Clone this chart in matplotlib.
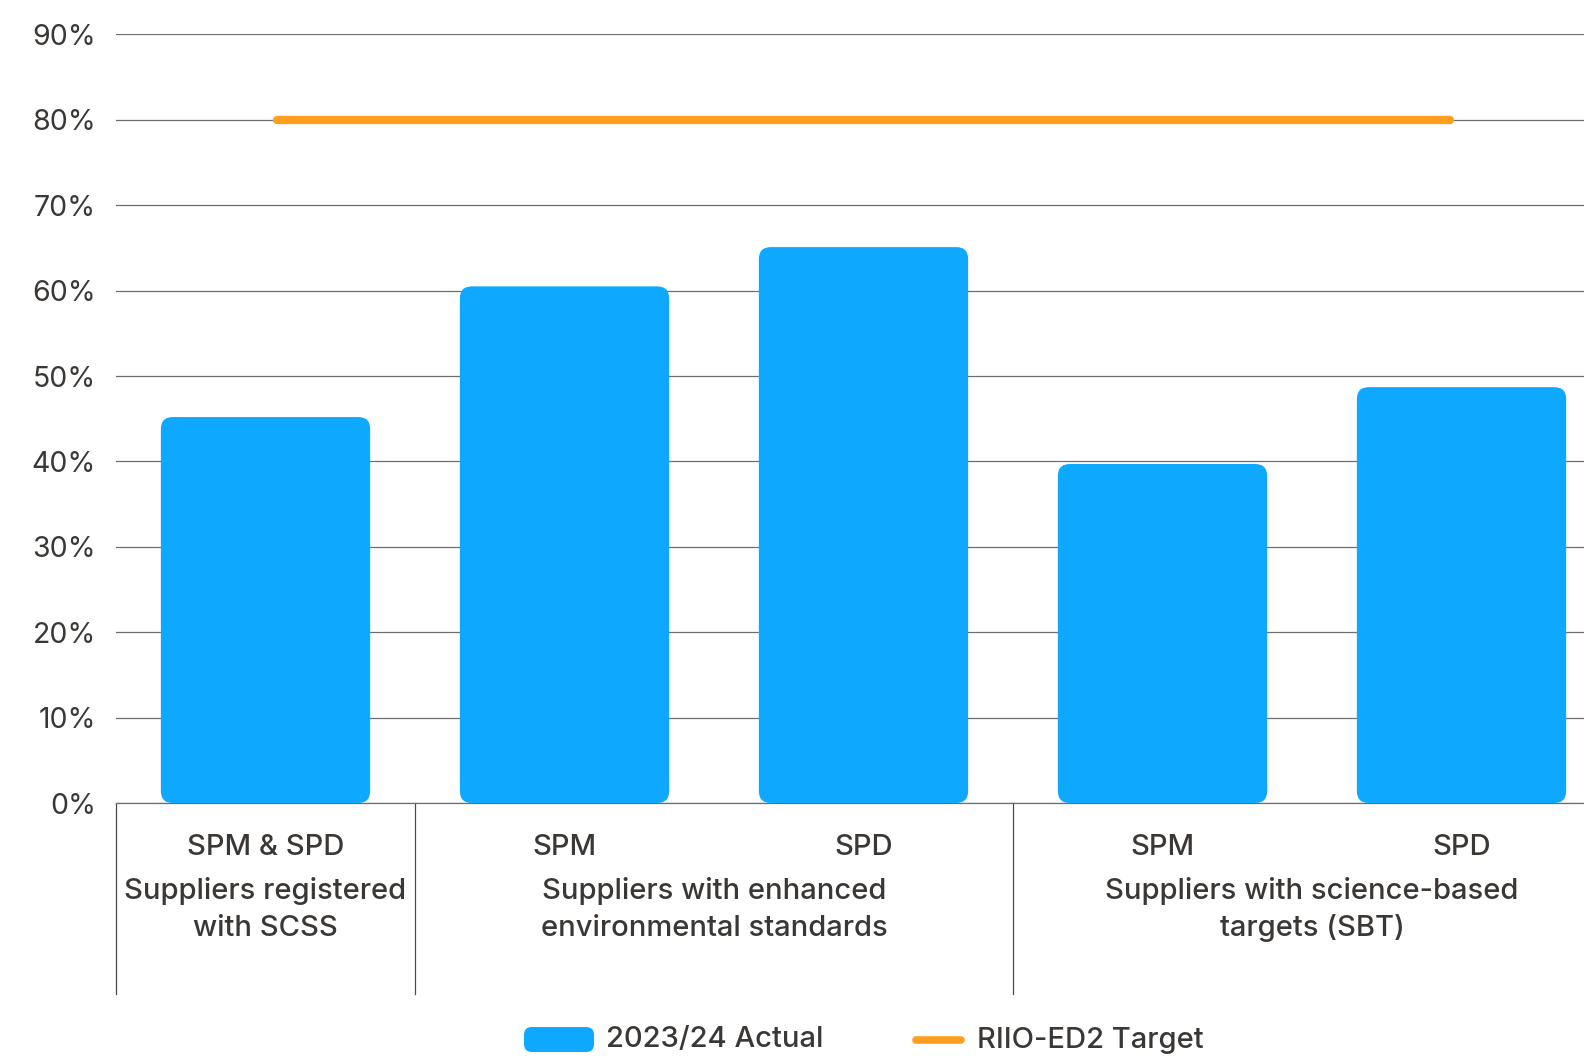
import matplotlib
matplotlib.use("Agg")
import matplotlib.pyplot as plt
from matplotlib.patches import FancyBboxPatch
from matplotlib.lines import Line2D
import matplotlib.transforms as mtransforms

# Data
bar_labels = ["SPM & SPD", "SPM", "SPD", "SPM", "SPD"]
actual_pct = [45.2, 60.5, 65.1, 39.7, 48.7]
target_pct = 80
group_names = ["Suppliers registered\nwith SCSS",
               "Suppliers with enhanced\nenvironmental standards",
               "Suppliers with science-based\ntargets (SBT)"]
group_members = [[0], [1, 2], [3, 4]]
y_ticks = [0, 10, 20, 30, 40, 50, 60, 70, 80, 90]
legend_labels = ["2023/24 Actual", "RIIO-ED2 Target"]

BLUE = "#0EA8FE"
ORANGE = "#FF9E1F"
TEXT = "#3A3734"
GRID = "#6E6E6E"

W, H, DPI = 1584, 1056, 100
plt.rcParams["font.family"] = ["Inter", "DejaVu Sans"]

fig = plt.figure(figsize=(W / DPI, H / DPI), dpi=DPI)
fig.patch.set_facecolor("white")

# axes geometry in pixels
ax_left, ax_base, ax_top, slot = 116, 803, 34.5, 299
n = len(actual_pct)
ax = fig.add_axes([ax_left / W, (H - ax_base) / H,
                   n * slot / W, (ax_base - ax_top) / H])
ax.set_xlim(-0.5, n - 0.5)
ax.set_ylim(0, 90)

# rounded bars
bar_w = 0.70
px_x = slot
px_y = (ax_base - ax_top) / 90
radius_px = 12
for i, v in enumerate(actual_pct):
    p = FancyBboxPatch((i - bar_w / 2, 0), bar_w, v,
                       boxstyle=f"round,pad=0,rounding_size={radius_px / px_x}",
                       mutation_aspect=px_x / px_y,
                       facecolor=BLUE, edgecolor="none", zorder=3)
    ax.add_patch(p)

# target line
ax.plot([0 + 0.04, n - 1 - 0.04], [target_pct, target_pct], color=ORANGE,
        lw=6, solid_capstyle="round", zorder=4)

# grid & axes styling
ax.set_yticks(y_ticks)
ax.set_yticklabels([f"{t}%" for t in y_ticks], fontsize=20.5, color=TEXT)
ax.tick_params(axis="y", length=0, pad=14.5)
ax.set_xticks([])
ax.yaxis.grid(True, color=GRID, lw=0.9, zorder=0)
ax.set_axisbelow(True)
for s in ["left", "right", "top"]:
    ax.spines[s].set_visible(False)
ax.spines["bottom"].set_color(GRID)
ax.spines["bottom"].set_linewidth(0.9)

# category labels and group dividers below the axis
tr = mtransforms.blended_transform_factory(ax.transData, fig.transFigure)
def fy(px):
    return (H - px) / H

for i, lab in enumerate(bar_labels):
    ax.text(i, fy(855), lab, transform=tr, ha="center", va="baseline",
            fontsize=21, fontweight="medium", color=TEXT)

for names, members in zip(group_names, group_members):
    cx = sum(members) / len(members)
    for k, line in enumerate(names.split("\n")):
        ax.text(cx, fy(899 + 37 * k), line, transform=tr, ha="center",
                va="baseline", fontsize=21, fontweight="medium", color=TEXT)

dividers = [-0.5] + [members[-1] + 0.5 for members in group_members[:-1]]
for xd in dividers:
    ax.add_line(Line2D([xd, xd], [fy(ax_base), fy(994)], transform=tr,
                       color="#4A4A4A", lw=0.9, clip_on=False))

# legend
fig.add_artist(FancyBboxPatch((524 / W, fy(1052)), 70 / W, 25 / H,
                              boxstyle="round,pad=0,rounding_size=0.005",
                              mutation_aspect=W / H,
                              transform=fig.transFigure,
                              facecolor=BLUE, edgecolor="none"))
fig.text(606 / W, fy(1040), legend_labels[0], ha="left", va="center",
         fontsize=21, fontweight="medium", color=TEXT)
fig.add_artist(Line2D([916 / W, 961 / W], [fy(1039.5), fy(1039.5)],
                      transform=fig.transFigure, color=ORANGE, lw=5.5,
                      solid_capstyle="round"))
fig.text(977 / W, fy(1040), legend_labels[1], ha="left", va="center",
         fontsize=21, fontweight="medium", color=TEXT)

fig.savefig("out.png", dpi=DPI, facecolor="white")
